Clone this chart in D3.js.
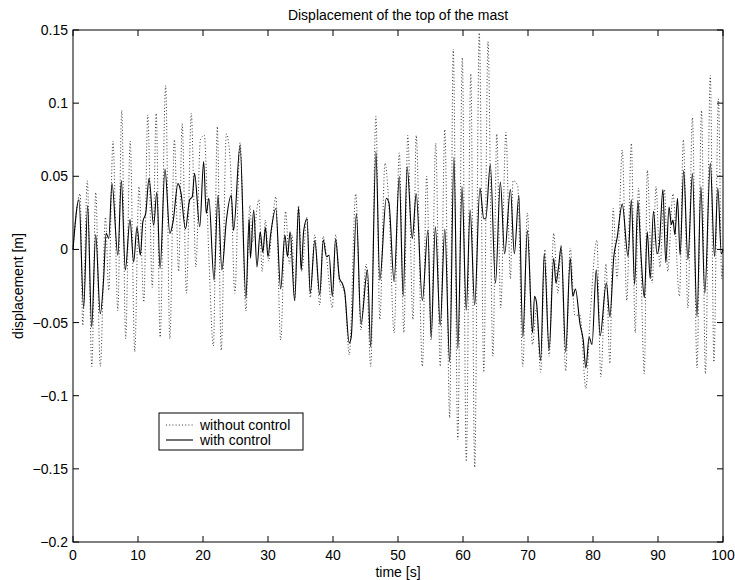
<!DOCTYPE html>
<html>
<head>
<meta charset="utf-8">
<script src="https://cdn.jsdelivr.net/npm/d3@7"></script>
<style>
  body { margin: 0; background: #fff; }
  svg text { font-family: "Liberation Sans", Arial, Helvetica, sans-serif; font-size: 14px; fill: #000; }
</style>
</head>
<body>
<svg id="chart"></svg>
<script>
// Displacement of the top of the mast - with / without control

const width = 735;
const height = 580;
const margin = { top: 30, right: 12, bottom: 38, left: 73 };

// extrema, "with control" (solid)
const timeWith = [
  0, 0.92, 1.64, 2.26, 2.87, 3.49, 4.2, 4.7, 5.1, 5.5, 6.0, 6.9, 7.44, 8.05, 8.77, 9.33, 9.85,
  10.36, 10.75, 11.2, 11.7, 12.4, 12.9, 13.4, 14.15, 14.9, 15.4, 16.15, 16.6, 17.3, 17.95, 18.35,
  18.7, 19.5, 20.1, 20.5, 20.9, 21.7, 22.3, 22.9, 23.6, 24.35, 24.7, 25.7, 26.6, 27.1, 27.3, 27.8,
  28.3, 28.8, 29.2, 29.6, 30.0, 30.4, 31.2, 31.95, 32.6, 33.0, 33.4, 34.1, 34.7, 35.1, 35.5, 36.0,
  36.5, 37.2, 37.96, 38.5, 39.0, 39.4, 39.9, 40.4, 41.0, 41.4, 41.8, 42.5, 42.8, 43.6, 44.3, 45.3,
  45.8, 46.6, 47.2, 48.2, 48.6, 49.4, 50.2, 50.8, 51.4, 52.2, 52.8, 53.75, 54.6, 55.1, 55.75, 56.5,
  57.2, 57.95, 58.6, 59.2, 59.85, 60.5, 61.1, 61.8, 62.6, 63.2, 63.5, 64.2, 65.0, 65.75, 66.4, 67.3,
  67.9, 68.6, 69.2, 69.9, 70.7, 71.0, 71.3, 71.95, 72.5, 73.25, 73.95, 74.3, 74.7, 75.1, 75.8, 76.5,
  76.9, 77.3, 78.0, 78.5, 78.9, 79.4, 79.85, 80.5, 81.1, 82.05, 82.6, 83.2, 83.7, 84.5, 85.4, 85.9,
  86.4, 86.9, 87.4, 87.9, 88.35, 88.8, 89.3, 89.85, 90.2, 90.75, 91.2, 91.7, 92.05, 92.3, 92.6, 93.0,
  93.4, 93.95, 94.6, 95.3, 96.0, 96.6, 97.2, 98.05, 98.7, 99.2, 99.75, 100
];
const dispWith = [
  0, 0.034, -0.040, 0.030, -0.053, 0.010, -0.044, -0.021, 0.011, 0.0075, 0.045, -0.004, 0.047, -0.014, 0.0205, -0.0085, 0.0155,
  -0.004, 0.019, 0.025, 0.0486, 0.0166, 0.039, -0.013, 0.055, 0.011, 0.019, 0.045, 0.039, 0.014, 0.034, 0.036,
  0.052, 0.0155, 0.060, 0.0246, 0.035, -0.021, 0.037, -0.014, 0.020, 0.037, 0.013, 0.071, -0.0335, 0.021, -0.006, 0.027,
  -0.012, 0.012, -0.002, 0.015, -0.005, 0.010, 0.028, -0.027, 0.0098, -0.005, 0.012, -0.035, 0.029, -0.014, 0.013, 0.021,
  -0.030, 0.006, -0.031, 0.0064, -0.005, -0.004, -0.032, 0.007, -0.020, -0.023, -0.029, -0.064, -0.060, 0.0246, -0.051, -0.014,
  -0.0666, 0.0668, -0.021, 0.035, 0.032, -0.022, 0.050, -0.032, 0.0565, 0.0075, 0.038, -0.035, 0.013, -0.060, 0.0155, -0.052,
  0.014, -0.077, 0.063, -0.068, 0.043, -0.0415, 0.027, -0.038, 0.042, 0.021, 0.021, 0.058, -0.023, 0.046, -0.003, 0.041,
  -0.003, 0.037, -0.060, 0.013, -0.057, -0.032, -0.036, -0.076, -0.003, -0.069, -0.006, -0.023, -0.012, 0.002, -0.070, -0.006,
  -0.032, -0.027, -0.051, -0.062, -0.081, -0.060, -0.065, -0.014, -0.059, -0.023, -0.046, -0.005, 0.0075, 0.031, -0.005, 0.034,
  -0.024, 0.033, -0.005, -0.033, 0.012, -0.020, 0.026, -0.003, 0.003, 0.041, -0.009, 0.029, 0.017, 0.020, 0.010, 0.035,
  -0.004, 0.054, -0.007, 0.052, -0.046, 0.043, -0.030, 0.059, -0.005, 0.042, -0.003, 0.0
];

// extrema, "without control" (dotted)
const timeWithout = [
  0, 1.1, 1.5, 2.2, 2.9, 3.5, 4.2, 5.0, 5.5, 6.15, 6.9, 7.5, 8.1, 8.8, 9.5, 10.15, 10.9, 11.5,
  12.2, 12.8, 13.4, 14.25, 14.9, 15.6, 16.25, 16.8, 17.45, 18.2, 18.9, 19.6, 20.2, 20.9, 21.6, 22.2,
  22.8, 23.6, 24.2, 24.9, 25.7, 26.6, 27.2, 27.6, 28.6, 29.1, 29.6, 30.1, 30.6, 31.2, 31.95, 32.7,
  33.3, 33.7, 34.1, 34.7, 35.2, 36.0, 36.5, 37.2, 37.96, 38.5, 39.0, 39.9, 40.4, 41.0, 41.8, 42.5,
  43.5, 44.3, 45.1, 45.8, 46.6, 47.2, 48.0, 48.6, 49.4, 50.2, 50.9, 51.5, 52.3, 52.8, 53.75, 54.4,
  55.1, 55.8, 56.5, 57.2, 57.95, 58.5, 59.2, 59.9, 60.5, 61.2, 61.8, 62.5, 63.2, 63.85, 64.6, 65.2,
  65.8, 66.6, 67.3, 67.7, 68.4, 69.2, 69.9, 70.7, 71.3, 71.95, 72.6, 73.25, 73.95, 74.6, 75.1, 75.8,
  76.5, 77.2, 78.0, 78.9, 79.6, 80.6, 81.2, 82.0, 82.6, 83.1, 83.7, 84.5, 85.2, 85.9, 86.5, 87.0,
  87.9, 88.35, 89.1, 89.7, 90.3, 91.0, 91.5, 92.3, 93.3, 93.9, 94.6, 95.3, 96.0, 96.7, 97.3, 98.05,
  98.6, 99.3, 99.8, 100
];
const dispWithout = [
  0, 0.038, -0.052, 0.047, -0.080, 0.039, -0.080, 0.022, -0.028, 0.074, -0.042, 0.095, -0.061, 0.074, -0.070, 0.043, -0.036, 0.092,
  -0.026, 0.093, -0.060, 0.112, -0.061, 0.075, -0.015, 0.086, -0.030, 0.093, -0.012, 0.075, 0.078, -0.005, -0.066, 0.084,
  -0.069, 0.079, 0.060, -0.030, 0.073, -0.042, 0.030, 0.005, 0.034, -0.015, 0.020, -0.008, 0.015, 0.036, -0.062, 0.026,
  -0.010, 0.010, -0.035, 0.030, -0.015, 0.022, -0.033, 0.010, -0.038, 0.009, -0.005, -0.040, 0.010, -0.022, -0.030, -0.072,
  0.038, -0.055, -0.010, -0.080, 0.091, -0.048, 0.059, 0.030, -0.057, 0.066, -0.057, 0.078, -0.048, 0.078, -0.080, 0.050,
  -0.062, 0.0725, -0.080, 0.082, -0.115, 0.137, -0.130, 0.131, -0.145, 0.120, -0.149, 0.148, -0.084, 0.142, -0.073, 0.079,
  -0.040, 0.080, -0.020, 0.047, 0.044, -0.080, 0.025, -0.065, -0.040, -0.084, 0.000, -0.073, 0.011, -0.030, 0.003, -0.083,
  0.001, -0.045, -0.045, -0.095, -0.043, 0.0064, -0.087, -0.010, -0.078, 0.028, -0.020, 0.068, -0.035, 0.0725, -0.057, 0.042,
  -0.085, 0.054, -0.023, 0.043, -0.012, 0.041, -0.015, 0.038, -0.032, 0.075, -0.040, 0.090, -0.081, 0.095, -0.085, 0.119,
  -0.077, 0.103, -0.020, -0.010
];

const xTicks = [0, 10, 20, 30, 40, 50, 60, 70, 80, 90, 100];
const yTicks = [-0.2, -0.15, -0.1, -0.05, 0, 0.05, 0.1, 0.15];

const svg = d3.select("#chart").attr("width", width).attr("height", height);

const x = d3.scaleLinear().domain([0, 100]).range([margin.left, width - margin.right]);
const y = d3.scaleLinear().domain([-0.2, 0.15]).range([height - margin.bottom, margin.top]);

const fmt = (v) => (v === 0 ? "0" : String(+v.toFixed(2)).replace("-", "\u2212"));

// series
const withoutData = timeWithout.map((t, i) => ({ t, v: dispWithout[i] }));
const withData = timeWith.map((t, i) => ({ t, v: dispWith[i] }));

const line = d3
  .line()
  .x((d) => x(d.t))
  .y((d) => y(d.v))
  .curve(d3.curveMonotoneX);

const plotG = svg.append("g");

plotG
  .append("path")
  .datum(withoutData)
  .attr("d", line)
  .attr("fill", "none")
  .attr("stroke", "#222")
  .attr("stroke-width", 0.9)
  .attr("stroke-dasharray", "1,2.2");

plotG
  .append("path")
  .datum(withData)
  .attr("d", line)
  .attr("fill", "none")
  .attr("stroke", "#000")
  .attr("stroke-width", 1.1);

// axes: MATLAB-style box with inward ticks on all sides
const tickLen = 6;
const axisG = svg.append("g").attr("stroke", "#000").attr("stroke-width", 1);

axisG
  .append("rect")
  .attr("x", x(0))
  .attr("y", y(0.15))
  .attr("width", x(100) - x(0))
  .attr("height", y(-0.2) - y(0.15))
  .attr("fill", "none");

xTicks.forEach((t) => {
  axisG.append("line").attr("x1", x(t)).attr("x2", x(t)).attr("y1", y(-0.2)).attr("y2", y(-0.2) - tickLen);
  axisG.append("line").attr("x1", x(t)).attr("x2", x(t)).attr("y1", y(0.15)).attr("y2", y(0.15) + tickLen);
});
yTicks.forEach((v) => {
  axisG.append("line").attr("x1", x(0)).attr("x2", x(0) + tickLen).attr("y1", y(v)).attr("y2", y(v));
  axisG.append("line").attr("x1", x(100)).attr("x2", x(100) - tickLen).attr("y1", y(v)).attr("y2", y(v));
});

svg
  .append("g")
  .selectAll("text")
  .data(xTicks)
  .enter()
  .append("text")
  .attr("x", (d) => x(d))
  .attr("y", y(-0.2) + 18)
  .attr("text-anchor", "middle")
  .text(fmt);

svg
  .append("g")
  .selectAll("text")
  .data(yTicks)
  .enter()
  .append("text")
  .attr("x", x(0) - 5)
  .attr("y", (d) => y(d) + 5)
  .attr("text-anchor", "end")
  .text(fmt);

// labels
svg
  .append("text")
  .attr("x", (x(0) + x(100)) / 2)
  .attr("y", 20)
  .attr("text-anchor", "middle")
  .text("Displacement of the top of the mast");

svg
  .append("text")
  .attr("x", (x(0) + x(100)) / 2)
  .attr("y", 577)
  .attr("text-anchor", "middle")
  .text("time [s]");

svg
  .append("text")
  .attr("transform", `translate(23, ${(y(0.15) + y(-0.2)) / 2}) rotate(-90)`)
  .attr("text-anchor", "middle")
  .text("displacement [m]");

// legend
const legend = svg.append("g").attr("transform", "translate(159, 413)");
legend
  .append("rect")
  .attr("width", 144)
  .attr("height", 37)
  .attr("fill", "#fff")
  .attr("stroke", "#000");

const legendItems = [
  { label: "without control", dash: "1,2.2", width: 0.9, color: "#222" },
  { label: "with control", dash: null, width: 1.1, color: "#000" },
];
legendItems.forEach((d, i) => {
  const yy = 12 + i * 15;
  legend
    .append("line")
    .attr("x1", 7)
    .attr("x2", 34)
    .attr("y1", yy)
    .attr("y2", yy)
    .attr("stroke", d.color)
    .attr("stroke-width", d.width)
    .attr("stroke-dasharray", d.dash);
  legend
    .append("text")
    .attr("x", 41)
    .attr("y", yy + 5)
    .text(d.label);
});
</script>
</body>
</html>
